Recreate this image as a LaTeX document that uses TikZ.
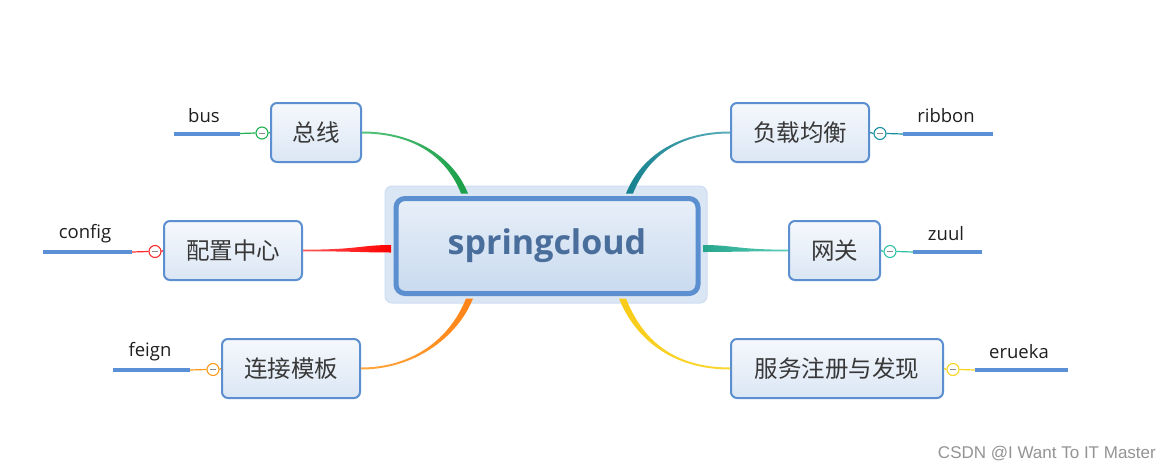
\documentclass[tikz,border=0pt]{standalone}
\usepackage{fontspec}
\setmainfont{Open Sans}
\newfontfamily\cjk{Noto Sans CJK SC}
\newfontfamily\wm{Liberation Sans}
\usetikzlibrary{calc}
\definecolor{boxblue}{HTML}{5B8FD0}
\definecolor{leafblue}{HTML}{5B8FD6}
\definecolor{cgreen}{HTML}{1DB04F}
\definecolor{cred}{HTML}{FF2A2A}
\definecolor{corange}{HTML}{FF9A1A}
\definecolor{cteal}{HTML}{178E9E}
\definecolor{ccyan}{HTML}{2EC2A6}
\definecolor{cyellow}{HTML}{F8D41C}
\definecolor{titleblue}{HTML}{4A6E9B}
\tikzset{
  centerbox/.style={draw=boxblue, line width=5, rounded corners=9,
    top color=white!35!boxblue!22, bottom color=boxblue!33,
    minimum width=302, minimum height=95, inner sep=0,
    text=titleblue, font=\fontsize{34}{36}\selectfont\bfseries},
  childbox/.style={draw=boxblue, line width=2, rounded corners=6,
    top color=white!94!boxblue, bottom color=boxblue!22,
    minimum height=59, inner sep=0, text=black!78,
    font=\cjk\fontsize{23.5}{26}\selectfont},
  port/.style={circle, draw=#1, fill=white, line width=1.1, minimum size=12, inner sep=0,
    path picture={\draw[black!45, line width=0.9]
      ([xshift=-2.8pt]path picture bounding box.center) --
      ([xshift=2.8pt]path picture bounding box.center);}},
  leafline/.style={draw=leafblue, line width=4},
  lbl/.style={text=black!88, inner sep=0, font=\fontsize{18.5}{20}\selectfont},
  thinlink/.style={line width=1.2}
}
\begin{document}
\begin{tikzpicture}[x=1pt,y=-1pt]
\useasboundingbox[fill=white] (0,0) rectangle (1171,469);
% glow around the central node
\draw[fill=boxblue!22, draw=boxblue!30, line width=1, rounded corners=7] (385,186) rectangle (707,303);
% central node
\node[centerbox] (c) at (547,246) {springcloud};
% child nodes
\node[childbox, minimum width=90] (b1) at (316,132.5) {总线};
\node[childbox, minimum width=138] (b2) at (233,250.5) {配置中心};
\node[childbox, minimum width=138] (b3) at (291,368.5) {连接模板};
\node[childbox, minimum width=138] (b4) at (800,132.5) {负载均衡};
\node[childbox, minimum width=91] (b5) at (834.5,250.5) {网关};
\node[childbox, minimum width=212] (b6) at (837,368.5) {服务注册与发现};
% main tapered connectors
\shade[left color=cgreen!75!white, right color=cgreen!90!black]
  ($(b1.east)+(0,-1)$) .. controls +(48,0) and +(-16,-40) .. ($(c.north)+(-79,-2.5)$)
  -- ($(c.north)+(-86,-2.5)$) .. controls +(-16,-40) and +(48,0) .. ($(b1.east)+(0,1)$) -- cycle;
\shade[left color=cred!80!white, right color=red]
  ($(b2.east)+(0,-0.8)$) .. controls +(55,0) and +(-30,0) .. ($(c.west)+(-2.5,-1)$)
  -- ($(c.west)+(-2.5,6.5)$) .. controls +(-30,0) and +(55,0) .. ($(b2.east)+(0,0.8)$) -- cycle;
\shade[left color=corange!85!white, right color=corange!85!red]
  ($(b3.east)+(0,1)$) .. controls +(52,0) and +(-16,40) .. ($(c.south)+(-74,2.5)$)
  -- ($(c.south)+(-81,2.5)$) .. controls +(-16,40) and +(52,0) .. ($(b3.east)+(0,-1)$) -- cycle;
\shade[right color=cteal!70!white, left color=cteal!90!black]
  ($(b4.west)+(0,-1)$) .. controls +(-48,0) and +(16,-40) .. ($(c.north)+(79,-2.5)$)
  -- ($(c.north)+(86,-2.5)$) .. controls +(16,-40) and +(-48,0) .. ($(b4.west)+(0,1)$) -- cycle;
\shade[right color=ccyan!80!white, left color=ccyan!85!black]
  ($(b5.west)+(0,-0.8)$) .. controls +(-50,0) and +(30,0) .. ($(c.east)+(2.5,-1)$)
  -- ($(c.east)+(2.5,6)$) .. controls +(30,0) and +(-50,0) .. ($(b5.west)+(0,0.8)$) -- cycle;
\shade[right color=cyellow!90!white, left color=cyellow!90!orange]
  ($(b6.west)+(0,1)$) .. controls +(-58,0) and +(16,40) .. ($(c.south)+(72,2.5)$)
  -- ($(c.south)+(79,2.5)$) .. controls +(16,40) and +(-58,0) .. ($(b6.west)+(0,-1)$) -- cycle;
% ports
\node[port=cgreen] (p1) at (262,133) {};
\node[port=cred] (p2) at (155,251.5) {};
\node[port=corange] (p3) at (213,369.5) {};
\node[port=cteal] (p4) at (880,133.5) {};
\node[port=ccyan] (p5) at (890,251.5) {};
\node[port=cyellow] (p6) at (953,369.5) {};
% leaf lines
\coordinate (l1a) at (174,133.5); \coordinate (l1b) at (240,133.5);
\coordinate (l2a) at (43,252);   \coordinate (l2b) at (132,252);
\coordinate (l3a) at (113,370);  \coordinate (l3b) at (190,370);
\coordinate (l4a) at (903,134);  \coordinate (l4b) at (993,134);
\coordinate (l5a) at (913,252);  \coordinate (l5b) at (982,252);
\coordinate (l6a) at (975,370);  \coordinate (l6b) at (1068,370);
\draw[thinlink, cgreen] (b1.west) -- (p1.east); \draw[thinlink, cgreen] (p1.west) -- (l1b);
\draw[thinlink, cred] (b2.west) -- (p2.east); \draw[thinlink, cred] (p2.west) -- (l2b);
\draw[thinlink, corange] (b3.west) -- (p3.east); \draw[thinlink, corange] (p3.west) -- (l3b);
\draw[thinlink, cteal] (b4.east) -- (p4.west); \draw[thinlink, cteal] (p4.east) -- (l4a);
\draw[thinlink, ccyan] (b5.east) -- (p5.west); \draw[thinlink, ccyan] (p5.east) -- (l5a);
\draw[thinlink, cyellow] (b6.east) -- (p6.west); \draw[thinlink, cyellow] (p6.east) -- (l6a);
\draw[leafline] (l1a) -- (l1b);
\draw[leafline] (l2a) -- (l2b);
\draw[leafline] (l3a) -- (l3b);
\draw[leafline] (l4a) -- (l4b);
\draw[leafline] (l5a) -- (l5b);
\draw[leafline] (l6a) -- (l6b);
% leaf labels
\node[lbl] (t1) at (204,116) {bus};
\node[lbl] (t2) at (85,234) {config};
\node[lbl] (t3) at (150,352) {feign};
\node[lbl] (t4) at (946,116) {ribbon};
\node[lbl] (t5) at (946,234) {zuul};
\node[lbl] (t6) at (1019,352) {erueka};
% watermark
\node[anchor=base east, inner sep=0, text=black!42, font=\wm\fontsize{17}{19}\selectfont] (wm) at (1156,458) {CSDN @I Want To IT Master};
\end{tikzpicture}
\end{document}
